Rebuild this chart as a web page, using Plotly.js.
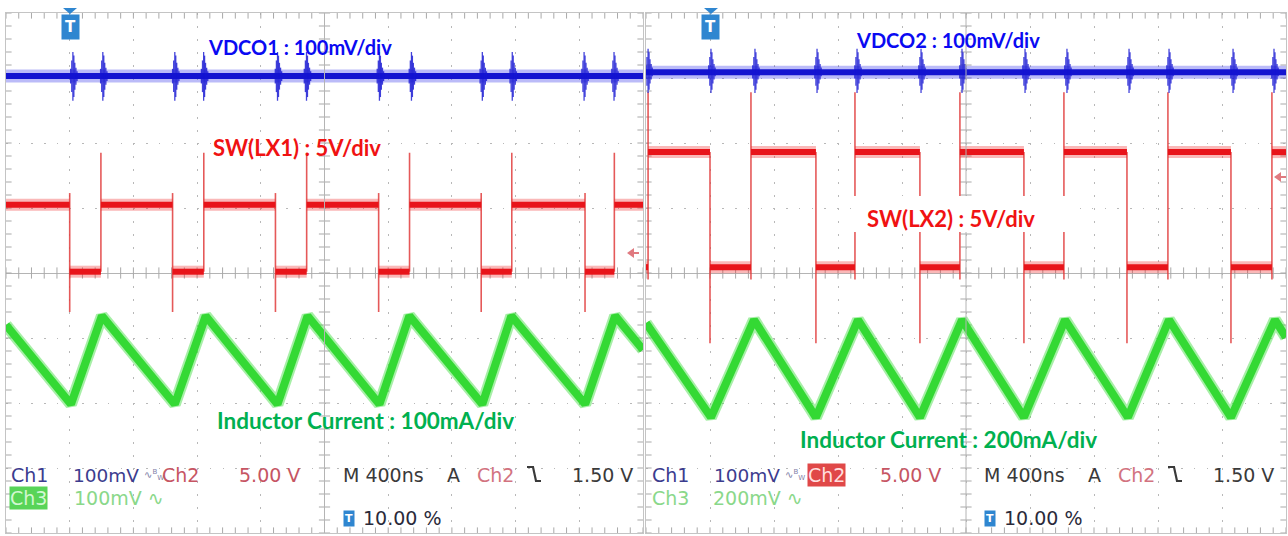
<!DOCTYPE html>
<html><head><meta charset="utf-8">
<script src="https://cdn.plot.ly/plotly-3.0.1.min.js"></script>
<style>html,body{margin:0;padding:0;background:#fff}#chart{width:1288px;height:536px}</style>
</head><body><div id="chart"></div>
<script>
// ---------- data (time in ns, 400 ns/div, trigger at 10 %; amplitudes in screen divisions) ----------
const timeRangeNs = [-400, 3600];

// Left capture: VDCO1 / SW(LX1) / inductor current 100mA/div
const lx1FallNs = [0, 646, 1292, 1940, 2584, 3236];
const lx1RiseNs = [196, 842, 1488, 2134, 2776, 3420];
const lx1HighDiv = 1.05;
const lx1LowDiv = 0.02;
const lx1RiseSpikeDiv = [0.02, 1.85];   // bottom, top
const lx1FallSpikeDiv = [1.23, -0.60];  // top, bottom
const vdco1BaseDiv = 3.03;
const vdco1SpikeNs = [20, 208, 660, 841, 1305, 1487, 1945, 2146, 2591, 2779, 3230, 3418];
const vdco1SpikeDiv = [3.40, 2.65];     // top, bottom
const il1Ns  = [-400, 8, 202, 660, 854, 1305, 1494, 1945, 2133, 2591, 2773, 3237, 3425, 3600];
const il1Div = [-0.80, -2.02, -0.66, -2.02, -0.66, -2.02, -0.66, -2.02, -0.66, -2.02, -0.66, -2.02, -0.66, -1.18];

// Right capture: VDCO2 / SW(LX2) / inductor current 200mA/div
const lx2FallNs = [0, 662, 1312, 1962, 2606, 3256];
const lx2RiseNs = [-387, 256, 906, 1562, 2212, 2862, 3512];
const lx2HighDiv = 1.86;
const lx2LowDiv = 0.09;
const lx2RiseSpikeDiv = [-0.10, 2.78];
const lx2FallSpikeDiv = [1.86, -1.08];
const vdco2BaseDiv = 3.09;
const vdco2SpikeNs = [-387, 6, 281, 669, 919, 1319, 1575, 1969, 2231, 2619, 2869, 3269, 3525];
const vdco2SpikeDiv = [3.45, 2.77];
const il2Ns  = [-400, 6, 275, 662, 925, 1312, 1575, 1962, 2219, 2612, 2869, 3256, 3531, 3600];
const il2Div = [-0.77, -2.22, -0.72, -2.22, -0.72, -2.22, -0.72, -2.22, -0.72, -2.22, -0.72, -2.22, -0.72, -0.99];

// ---------- builders ----------
const W = 1288, H = 536;
const RED = '#e8141a', RED_HALO = 'rgba(240,40,40,0.33)', RED_EDGE = 'rgba(225,60,60,0.85)';
const BLUE = '#1414d0', BLUE_HALO = 'rgba(50,50,235,0.33)';
const GREEN = '#34d934', GREEN_HALO = 'rgba(60,220,60,0.45)';

function swTraces(fall, rise, high, low, riseSp, fallSp, xa, ya) {
  const ev = fall.map(t => ({t, k: 'f'})).concat(rise.map(t => ({t, k: 'r'}))).sort((a, b) => a.t - b.t);
  let level = ev[0].k === 'f' ? high : low;
  let cur = timeRangeNs[0];
  const bx = [], by = [], ex = [], ey = [];
  ev.forEach(e => {
    bx.push(cur, e.t, null); by.push(level, level, null);
    if (e.k === 'f') { ex.push(e.t, e.t, null); ey.push(fallSp[0], fallSp[1], null); level = low; }
    else { ex.push(e.t, e.t, null); ey.push(riseSp[0], riseSp[1], null); level = high; }
    cur = e.t;
  });
  bx.push(cur, timeRangeNs[1]); by.push(level, level);
  return [
    {x: ex, y: ey, xaxis: xa, yaxis: ya, mode: 'lines', line: {color: RED_EDGE, width: 1.6}, hoverinfo: 'skip'},
    {x: bx, y: by, xaxis: xa, yaxis: ya, mode: 'lines', line: {color: RED_HALO, width: 12}, hoverinfo: 'skip'},
    {x: bx, y: by, xaxis: xa, yaxis: ya, mode: 'lines', line: {color: RED, width: 6}, hoverinfo: 'skip'}
  ];
}
// ringing burst: several thin strokes around each spike time, tapering in height
const burstOffsetsNs = [-14, -7, 0, 6, 12, 19, 26];
const burstScale = [0.30, 0.65, 1.0, 0.85, 0.55, 0.35, 0.2];
function vdcoTraces(base, spikes, sp, xa, ya) {
  const sx = [], sy = [];
  spikes.forEach(t => burstOffsetsNs.forEach((o, j) => {
    sx.push(t + o, t + o, null);
    sy.push(base + (sp[0] - base) * burstScale[j], base + (sp[1] - base) * burstScale[j], null);
  }));
  return [
    {x: timeRangeNs, y: [base, base], xaxis: xa, yaxis: ya, mode: 'lines', line: {color: BLUE_HALO, width: 13}, hoverinfo: 'skip'},
    {x: timeRangeNs, y: [base, base], xaxis: xa, yaxis: ya, mode: 'lines', line: {color: BLUE, width: 6}, hoverinfo: 'skip'},
    {x: sx, y: sy, xaxis: xa, yaxis: ya, mode: 'lines', line: {color: 'rgba(20,20,210,0.8)', width: 1.3}, hoverinfo: 'skip'}
  ];
}
function ilTraces(t, v, xa, ya) {
  return [
    {x: t, y: v, xaxis: xa, yaxis: ya, mode: 'lines', line: {color: GREEN_HALO, width: 12}, hoverinfo: 'skip'},
    {x: t, y: v, xaxis: xa, yaxis: ya, mode: 'lines', line: {color: GREEN, width: 8}, hoverinfo: 'skip'}
  ];
}
// graticule tick marks (decoration)
function tickTraces(xa, ya) {
  const gx = [], gy = [];
  for (let i = 0; i <= 50; i++) gx.push(timeRangeNs[0] + i * 80);
  for (let i = 0; i <= 40; i++) gy.push(-4 + i * 0.2);
  const mk = (sym, size) => ({symbol: sym, size: size, color: '#a9a9a9', line: {color: '#a9a9a9', width: 1}});
  return [
    {x: gx.concat(gx, gx), y: gx.map(() => 0).concat(gx.map(() => 4), gx.map(() => -4)), xaxis: xa, yaxis: ya,
     mode: 'markers', marker: mk('line-ns', 8), hoverinfo: 'skip', cliponaxis: true},
    {x: gy.map(() => 1600).concat(gy.map(() => timeRangeNs[0]), gy.map(() => timeRangeNs[1])), y: gy.concat(gy, gy),
     xaxis: xa, yaxis: ya, mode: 'markers', marker: mk('line-ew', 8), hoverinfo: 'skip', cliponaxis: true}
  ];
}

const data = [].concat(
  tickTraces('x', 'y'), tickTraces('x2', 'y2'),
  ilTraces(il1Ns, il1Div, 'x', 'y'), ilTraces(il2Ns, il2Div, 'x2', 'y2'),
  swTraces(lx1FallNs, lx1RiseNs, lx1HighDiv, lx1LowDiv, lx1RiseSpikeDiv, lx1FallSpikeDiv, 'x', 'y'),
  swTraces(lx2FallNs, lx2RiseNs, lx2HighDiv, lx2LowDiv, lx2RiseSpikeDiv, lx2FallSpikeDiv, 'x2', 'y2'),
  vdcoTraces(vdco1BaseDiv, vdco1SpikeNs, vdco1SpikeDiv, 'x', 'y'),
  vdcoTraces(vdco2BaseDiv, vdco2SpikeNs, vdco2SpikeDiv, 'x2', 'y2')
);

// ---------- layout ----------
const px = x => x / W, py = y => 1 - y / H;
const xCommon = {range: timeRangeNs, dtick: 400, tick0: -400, showgrid: true, gridcolor: '#b8b8b8', griddash: '1.5px,11.5px',
  gridwidth: 1, showticklabels: false, ticks: '', zeroline: false, showline: true, mirror: true, linecolor: '#c4c4c4', fixedrange: true};
const yCommon = {range: [-4, 4], dtick: 1, tick0: -4, showgrid: true, gridcolor: '#b8b8b8', griddash: '1.5px,11.24px',
  gridwidth: 1, showticklabels: false, ticks: '', zeroline: true, zerolinecolor: '#b4b4b4', zerolinewidth: 1,
  showline: true, mirror: true, linecolor: '#c4c4c4', fixedrange: true, domain: [3 / H, 1 - 13 / H]};

const ann = [];
function A(text, x, y, o) {
  o = o || {};
  ann.push(Object.assign({text: text, x: px(x), y: py(y), xref: 'paper', yref: 'paper', showarrow: false,
    xanchor: 'left', yanchor: 'middle', font: {family: 'DejaVu Sans', size: 19, color: '#3a3a3a'}}, o));
}
const big = (c, s) => ({font: {family: 'Lato', size: s, color: c}});
A('<b>VDCO1 : 100mV/div</b>', 206, 47, big('#0a0af2', 20));
A('<b>SW(LX1) : 5V/div</b>', 211, 147, big('#f01212', 22));
A('<b>VDCO2 : 100mV/div</b>', 854, 40, big('#0a0af2', 20));
A('<b>SW(LX2) : 5V/div</b>', 865, 219, big('#f01212', 22));
A('<b>Inductor Current : 100mA/div</b>', 215, 420, big('#00b050', 22.5));
A('<b>Inductor Current : 200mA/div</b>', 798, 439, big('#00b050', 22.5));

const CH1 = '#3c3c8e', CH2 = '#c65563', CH2L = '#d27380', CH3 = '#8ad88a', GRAY = '#3a3a3a';
const f = (c, s) => ({font: {family: 'DejaVu Sans', size: s || 19, color: c}});
const shapes = [
  {type: 'line', xref: 'x', yref: 'y', x0: 1600, x1: 1600, y0: -4, y1: 4, line: {color: '#b4b4b4', width: 1}},
  {type: 'line', xref: 'x2', yref: 'y2', x0: 1600, x1: 1600, y0: -4, y1: 4, line: {color: '#b4b4b4', width: 1}},
  {type: 'rect', xref: 'paper', yref: 'paper', x0: px(853), x1: px(1080), y0: py(232), y1: py(196), fillcolor: '#ffffff', line: {width: 0}, layer: 'above'}
];
const pathPx = pts => pts.map((p, i) => (i ? 'L' : 'M') + px(p[0]) + ',' + py(p[1])).join(' ');

[[0, 0], [1, 641]].forEach(([i, o]) => {
  A('Ch1', 9 + o, 475, f(CH1));
  A('100mV', 71 + o, 475, f(CH1, 18.5));
  A('∿<sup>B</sup><sub>W</sub>', 142 + o, 475, f('#8080a8', 10));
  if (i === 0) A('Ch2', 160, 475, f(CH2));
  else A('Ch2', 807, 475, Object.assign(f('#ffdede'), {bgcolor: '#e04848', borderpad: 0}));
  A('5.00 V', 237 + o, 475, f(CH2));
  A('M 400ns', 341 + o, 475, f(GRAY));
  A('A', 445 + o, 475, f(GRAY));
  A('Ch2', 475 + o, 475, f(CH2L));
  A('1.50 V', 635 + o, 475, Object.assign(f(GRAY), {xanchor: 'right'}));
  // falling-edge trigger slope symbol
  shapes.push({type: 'path', xref: 'paper', yref: 'paper', line: {color: GRAY, width: 2.2},
    path: pathPx([[527 + o, 467], [533 + o, 467], [536 + o, 481], [541 + o, 481]])});
  if (i === 0) {
    A('Ch3', 9, 498, Object.assign(f('#d2f7d2'), {bgcolor: '#58d458', borderpad: 0}));
    A('100mV ∿', 72, 498, f(CH3));
  } else {
    A('Ch3', 650, 498, f(CH3));
    A('200mV ∿', 711, 498, f(CH3));
  }
  A('<b>T</b>', 343 + o, 518, {font: {family: 'DejaVu Sans', size: 11, color: '#ffffff'}, bgcolor: '#2f86d0', borderpad: 1});
  A('10.00 %', 361 + o, 518, f('#2a2a3a'));
  // trigger position marker
  const tx = i === 0 ? 70 : 711;
  shapes.push({type: 'path', xref: 'paper', yref: 'paper', fillcolor: '#2f86d0', line: {width: 0},
    path: pathPx([[tx - 7, 8], [tx + 7, 8], [tx, 14]]) + ' Z'});
  A('<b>T</b>', tx, 27, {xanchor: 'center', font: {family: 'DejaVu Sans', size: 15, color: '#ffffff'}, bgcolor: '#2f86d0', borderpad: 3});
});
// trigger level arrows
[[627, 253], [1274, 177]].forEach(([ax, ay]) => {
  shapes.push({type: 'path', xref: 'paper', yref: 'paper', fillcolor: '#e07a80', line: {width: 0},
    path: pathPx([[ax, ay], [ax + 7, ay - 5], [ax + 7, ay + 5]]) + ' Z'});
  shapes.push({type: 'line', xref: 'paper', yref: 'paper', x0: px(ax + 6), x1: px(ax + 12), y0: py(ay), y1: py(ay),
    line: {color: '#e07a80', width: 2}});
});

const layout = {
  width: W, height: H, margin: {l: 0, r: 0, t: 0, b: 0}, paper_bgcolor: '#ffffff', plot_bgcolor: '#ffffff', showlegend: false,
  xaxis: Object.assign({}, xCommon, {domain: [6 / W, 643 / W], anchor: 'y'}),
  yaxis: Object.assign({}, yCommon, {anchor: 'x'}),
  xaxis2: Object.assign({}, xCommon, {domain: [646 / W, 1286 / W], anchor: 'y2'}),
  yaxis2: Object.assign({}, yCommon, {anchor: 'x2'}),
  annotations: ann, shapes: shapes
};
Plotly.newPlot('chart', data, layout, {staticPlot: true, displayModeBar: false});
</script></body></html>
